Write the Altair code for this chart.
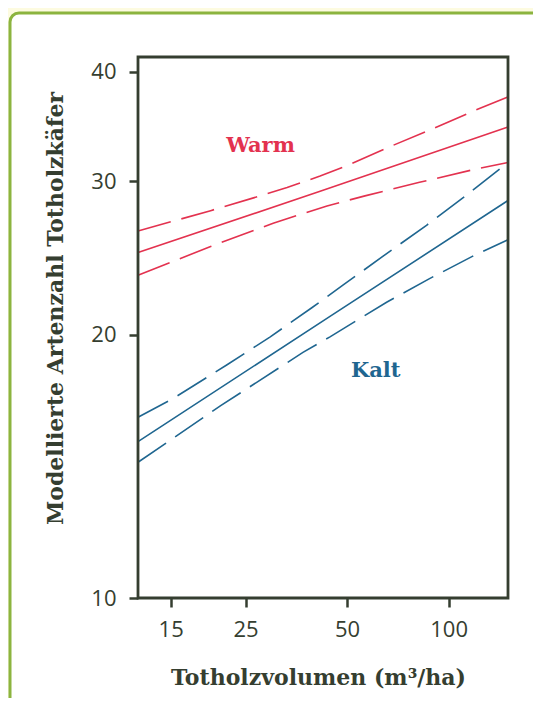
import altair as alt
import pandas as pd

# ---- data ----
red_c_x = [12, 41.6, 150]
red_c_y = [24.85, 29.2, 34.6]
red_u_x = [12, 19.7, 26.4, 33.2, 41.6, 50, 68.3, 87.8, 120.8, 150]
red_u_y = [26.3, 27.75, 28.7, 29.5, 30.4, 31.25, 32.95, 34.3, 36.2, 37.45]
red_l_x = [12, 19.7, 30.2, 43.6, 56.5, 82, 117.6, 150]
red_l_y = [23.4, 25.25, 26.85, 28.1, 28.85, 29.9, 30.9, 31.5]

blue_c_x = [12, 44.5, 150]
blue_c_y = [15.1, 21.0, 28.5]
blue_u_x = [12, 15.2, 22.1, 29.6, 39.4, 48.6, 63.8, 86, 113, 150]
blue_u_y = [16.1, 16.9, 18.5, 19.9, 21.5, 22.8, 24.6, 26.7, 28.9, 31.5]
blue_l_x = [12, 21.1, 37, 44.5, 65.5, 87.8, 117.6, 150]
blue_l_y = [14.3, 16.6, 19.1, 19.9, 21.8, 23.2, 24.6, 25.7]

x_ticks = [15, 25, 50, 100]
y_ticks = [10, 20, 30, 40]

label_text = ["Warm", "Kalt"]
label_x = [27.7, 60.8]
label_y = [32.9, 18.2]

RED = "#e3324f"
BLUE = "#1f6690"
DARK = "#353e30"

def mk(xs, ys, group, line):
    return pd.DataFrame({"x": xs, "y": ys, "group": group, "line": line})

solid = pd.concat([mk(red_c_x, red_c_y, "Warm", "wc"),
                   mk(blue_c_x, blue_c_y, "Kalt", "kc")])
dashed = pd.concat([mk(red_u_x, red_u_y, "Warm", "wu"),
                    mk(red_l_x, red_l_y, "Warm", "wl"),
                    mk(blue_u_x, blue_u_y, "Kalt", "ku"),
                    mk(blue_l_x, blue_l_y, "Kalt", "kl")])
labels = pd.DataFrame({"x": label_x, "y": label_y, "group": label_text})

W, H = 370, 541

xscale = alt.Scale(type="log", domain=[12, 150], nice=False)
yscale = alt.Scale(type="log", domain=[10, 41.6], nice=False)
cscale = alt.Scale(domain=["Warm", "Kalt"], range=[RED, BLUE])

xaxis = alt.Axis(values=x_ticks, title="Totholzvolumen (m³/ha)", grid=False,
                 domain=False, tickSize=9, tickWidth=2.5, tickColor=DARK,
                 labelFont="Open Sans", labelFontSize=22, labelColor=DARK,
                 labelPadding=12, labelBaseline="top",
                 titleFont="DejaVu Serif", titleFontWeight="bold", titleFontSize=22,
                 titleColor=DARK, titleX=180, titleY=86, titleAlign="center",
                 titleBaseline="alphabetic", zindex=1)
yaxis = alt.Axis(values=y_ticks, title="Modellierte Artenzahl Totholzkäfer", grid=False,
                 domain=False, tickSize=9, tickWidth=2.5, tickColor=DARK,
                 labelFont="Open Sans", labelFontSize=22, labelColor=DARK,
                 labelPadding=13,
                 titleFont="DejaVu Serif", titleFontWeight="bold", titleFontSize=22,
                 titleColor=DARK, titleX=-76, titleY=251, titleAngle=270,
                 titleAlign="center", titleBaseline="alphabetic", zindex=1)

deco = alt.Chart(alt.Data(values=[{}])).mark_rect(
    fill="white", stroke="#8cb43f", strokeWidth=3, cornerRadius=9
).encode(x=alt.value(-128), x2=alt.value(W + 80), y=alt.value(-44), y2=alt.value(H + 140))

solid_l = alt.Chart(solid).mark_line(strokeWidth=1.6).encode(
    x=alt.X("x:Q", scale=xscale, axis=xaxis),
    y=alt.Y("y:Q", scale=yscale, axis=yaxis),
    color=alt.Color("group:N", scale=cscale, legend=None),
    detail="line:N",
)
dashed_l = alt.Chart(dashed).mark_line(strokeWidth=1.6, strokeDash=[34, 11]).encode(
    x=alt.X("x:Q", scale=xscale),
    y=alt.Y("y:Q", scale=yscale),
    color=alt.Color("group:N", scale=cscale, legend=None),
    detail="line:N",
)
text_l = alt.Chart(labels).mark_text(
    font="DejaVu Serif", fontWeight="bold", fontSize=21, align="center", baseline="middle"
).encode(
    x=alt.X("x:Q", scale=xscale),
    y=alt.Y("y:Q", scale=yscale),
    text="group:N",
    color=alt.Color("group:N", scale=cscale, legend=None),
)
frame = alt.Chart(alt.Data(values=[{}])).mark_rect(
    fillOpacity=0, stroke=DARK, strokeWidth=2.8
).encode(x=alt.value(0), x2=alt.value(W), y=alt.value(0), y2=alt.value(H))

chart = alt.layer(deco, dashed_l, solid_l, text_l, frame).properties(
    width=W, height=H,
    autosize=alt.AutoSizeParams(type="none"),
    padding={"left": 130, "top": 49, "right": 25, "bottom": 100},
    background="#fdfbe0",
).configure_view(stroke=None)

chart.save("out.html", embed_options={"renderer": "svg", "actions": False})
